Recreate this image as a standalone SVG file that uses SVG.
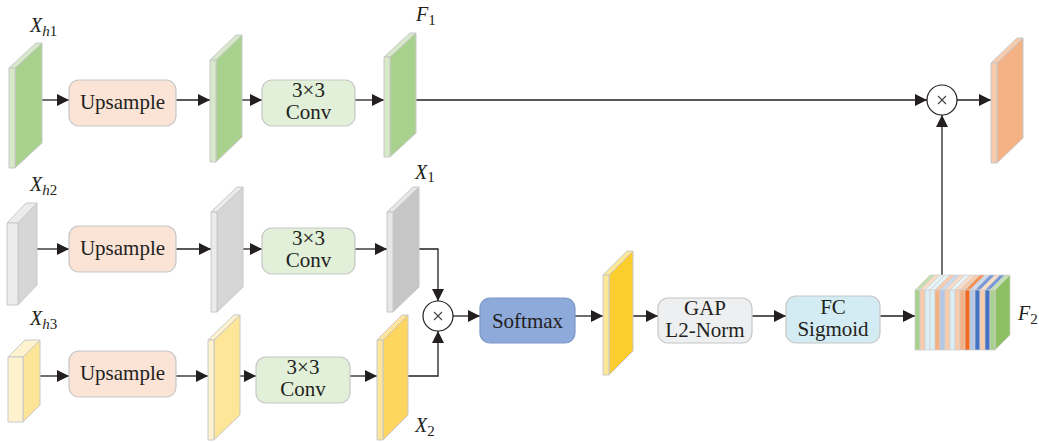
<svg xmlns="http://www.w3.org/2000/svg" width="1039" height="443" viewBox="0 0 1039 443">
<defs>
<marker id="ah" markerUnits="userSpaceOnUse" markerWidth="12" markerHeight="12" refX="12" refY="6" orient="auto">
<path d="M0,0 L12,6 L0,12 z" fill="#231f20"/>
</marker>
<style>
.map polygon,.map rect{stroke:#c8c8c8;stroke-width:1;stroke-linejoin:round}
.box{stroke:#c6c6c6;stroke-width:1.2}
.bt{font-family:"Liberation Serif",serif;font-size:21px;fill:#231f20;text-anchor:middle}
.lbl{font-family:"Liberation Serif",serif;font-size:20px;font-style:italic;fill:#231f20}
.sub{font-size:15px}
.num{font-size:15px;font-style:normal}
.con path{fill:none;stroke:#231f20;stroke-width:1.3}
.arr{marker-end:url(#ah)}
.op circle{fill:#fff;stroke:#231f20;stroke-width:1.2}
.op line{stroke:#444;stroke-width:1.1}
.st{stroke:#cfcfcf;stroke-width:0.7}
</style>
</defs>
<rect width="1039" height="443" fill="#fff"/>

<g id="connectors" class="con">
<path class="arr" d="M42,100 H69"/>
<path class="arr" d="M176,100 H210"/>
<path class="arr" d="M233,100 H262"/>
<path class="arr" d="M355,100 H384"/>
<path class="arr" d="M400,100 H927"/>
<path class="arr" d="M957,100 H991"/>
<path class="arr" d="M37,249 H69"/>
<path class="arr" d="M176,249 H211"/>
<path class="arr" d="M233,249 H262"/>
<path class="arr" d="M355,249 H387"/>
<path class="arr" d="M413,249 H438 V301"/>
<path class="arr" d="M40,376 H69"/>
<path class="arr" d="M176,376 H208"/>
<path class="arr" d="M227,376 H256"/>
<path class="arr" d="M350,376 H377"/>
<path class="arr" d="M398,376 H438 V331"/>
<path class="arr" d="M453,316 H480"/>
<path class="arr" d="M575,316 H603"/>
<path class="arr" d="M624,316 H658"/>
<path class="arr" d="M752,316 H786"/>
<path class="arr" d="M880,316 H915"/>
<path class="arr" d="M942,276 V115"/>
</g>

<g id="xh1" class="map">
<polygon points="15,68 42,43 42,143 15,168" fill="#a9d18e"/>
<polygon points="9,68 36,43 42,43 15,68" fill="#d7e9c8"/>
<rect x="9" y="68" width="6" height="100" fill="#d7e9c8"/>
<text class="lbl" x="30" y="32">X<tspan class="sub" dy="4">h</tspan><tspan class="num">1</tspan></text>
</g>
<g id="up1"><rect class="box" x="69" y="80" width="107" height="46" rx="10" fill="#fbe3d6"/><text class="bt" x="122.5" y="109">Upsample</text></g>
<g id="m12" class="map">
<polygon points="216,60 242,35 242,137 216,162" fill="#a9d18e"/>
<polygon points="210,60 236,35 242,35 216,60" fill="#d7e9c8"/>
<rect x="210" y="60" width="6" height="102" fill="#d7e9c8"/>
</g>
<g id="conv1"><rect class="box" x="262" y="80" width="93" height="46" rx="10" fill="#e2f0d9"/><text class="bt" x="308.5" y="97">3×3</text><text class="bt" x="308.5" y="119">Conv</text></g>
<g id="f1" class="map">
<polygon points="390,57 416,33 416,133 390,157" fill="#a9d18e"/>
<polygon points="384,57 410,33 416,33 390,57" fill="#d7e9c8"/>
<rect x="384" y="57" width="6" height="100" fill="#d7e9c8"/>
<text class="lbl" x="416" y="21">F<tspan class="num" dy="4">1</tspan></text>
</g>
<g id="mul1" class="op"><circle cx="942" cy="100" r="15"/><line x1="938" y1="96" x2="946" y2="104"/><line x1="946" y1="96" x2="938" y2="104"/></g>
<g id="out" class="map">
<polygon points="997,63 1023,38 1023,138 997,163" fill="#f4b183"/>
<polygon points="991,63 1017,38 1023,38 997,63" fill="#f8cbad"/>
<rect x="991" y="63" width="6" height="100" fill="#f8cbad"/>
</g>

<g id="xh2" class="map">
<polygon points="18,223 37,203 37,285 18,305" fill="#d6d6d6"/>
<polygon points="7,223 26,203 37,203 18,223" fill="#ececec"/>
<rect x="7" y="223" width="11" height="82" fill="#ececec"/>
<text class="lbl" x="30" y="191">X<tspan class="sub" dy="4">h</tspan><tspan class="num">2</tspan></text>
</g>
<g id="up2"><rect class="box" x="69" y="226" width="107" height="46" rx="10" fill="#fbe3d6"/><text class="bt" x="122.5" y="255">Upsample</text></g>
<g id="m22" class="map">
<polygon points="217,212 243,187 243,287 217,312" fill="#d6d6d6"/>
<polygon points="211,212 237,187 243,187 217,212" fill="#ebebeb"/>
<rect x="211" y="212" width="6" height="100" fill="#ebebeb"/>
</g>
<g id="conv2"><rect class="box" x="262" y="228" width="93" height="46" rx="10" fill="#e2f0d9"/><text class="bt" x="308.5" y="245">3×3</text><text class="bt" x="308.5" y="267">Conv</text></g>
<g id="x1" class="map">
<polygon points="393,212 419,187 419,287 393,312" fill="#c6c6c6"/>
<polygon points="387,212 413,187 419,187 393,212" fill="#e6e6e6"/>
<rect x="387" y="212" width="6" height="100" fill="#e6e6e6"/>
<text class="lbl" x="415" y="179">X<tspan class="num" dy="3">1</tspan></text>
</g>

<g id="xh3" class="map">
<polygon points="23,357 40,340 40,405 23,422" fill="#fde598"/>
<polygon points="8,357 25,340 40,340 23,357" fill="#fff3cf"/>
<rect x="8" y="357" width="15" height="65" fill="#fff3cf"/>
<text class="lbl" x="30" y="325">X<tspan class="sub" dy="4">h</tspan><tspan class="num">3</tspan></text>
</g>
<g id="up3"><rect class="box" x="69" y="351" width="107" height="46" rx="10" fill="#fbe3d6"/><text class="bt" x="122.5" y="380">Upsample</text></g>
<g id="m32" class="map">
<polygon points="214,340 240,315 240,415 214,440" fill="#fde697"/>
<polygon points="208,340 234,315 240,315 214,340" fill="#fff3cf"/>
<rect x="208" y="340" width="6" height="100" fill="#fff3cf"/>
</g>
<g id="conv3"><rect class="box" x="256" y="357" width="94" height="46" rx="10" fill="#e2f0d9"/><text class="bt" x="303" y="374">3×3</text><text class="bt" x="303" y="396">Conv</text></g>
<g id="x2" class="map">
<polygon points="383,340 408,315 408,415 383,440" fill="#fdd55f"/>
<polygon points="377,340 402,315 408,315 383,340" fill="#fde59c"/>
<rect x="377" y="340" width="6" height="100" fill="#fde59c"/>
<text class="lbl" x="415" y="432">X<tspan class="num" dy="4">2</tspan></text>
</g>

<g id="mul2" class="op"><circle cx="438" cy="316" r="15"/><line x1="434" y1="312" x2="442" y2="320"/><line x1="442" y1="312" x2="434" y2="320"/></g>
<g id="softmax"><rect x="480" y="298" width="95" height="45" rx="10" fill="#8eaadb" stroke="#7a97c8" stroke-width="1.2"/><text class="bt" x="527.5" y="328">Softmax</text></g>
<g id="att" class="map">
<polygon points="609,275 633,251 633,351 609,375" fill="#fccd2e"/>
<polygon points="603,275 627,251 633,251 609,275" fill="#fde89a"/>
<rect x="603" y="275" width="6" height="100" fill="#fde89a"/>
</g>
<g id="gap"><rect class="box" x="658" y="298" width="94" height="45" rx="10" fill="#eeeff0"/><text class="bt" x="705" y="315">GAP</text><text class="bt" x="705" y="337">L2-Norm</text></g>
<g id="fc"><rect class="box" x="786" y="296" width="94" height="47" rx="10" fill="#d3ecf3"/><text class="bt" x="833" y="314">FC</text><text class="bt" x="833" y="336">Sigmoid</text></g>

<g id="f2">
<polygon points="995,290 1010,275 1010,335 995,350" fill="#8cc063" stroke="#cfcfcf" stroke-width="0.8"/>
<g class="st">
<polygon points="915,290 930,275 935,275 920,290" fill="#c4e0b0"/>
<polygon points="920,290 935,275 940,275 925,290" fill="#fbdcc7"/>
<polygon points="925,290 940,275 945,275 930,290" fill="#e6f3f7"/>
<polygon points="930,290 945,275 950,275 935,290" fill="#e6f3f7"/>
<polygon points="935,290 950,275 955,275 940,290" fill="#f8cbad"/>
<polygon points="940,290 955,275 960,275 945,290" fill="#ccd9ef"/>
<polygon points="945,290 960,275 965,275 950,290" fill="#fbdcc7"/>
<polygon points="950,290 965,275 970,275 955,290" fill="#e6f3f7"/>
<polygon points="955,290 970,275 975,275 960,290" fill="#fbdcc7"/>
<polygon points="960,290 975,275 980,275 965,290" fill="#f8cbad"/>
<polygon points="965,290 980,275 985,275 970,290" fill="#f5925a"/>
<polygon points="970,290 985,275 990,275 975,290" fill="#ccd9ef"/>
<polygon points="975,290 990,275 995,275 980,290" fill="#7b9bd6"/>
<polygon points="980,290 995,275 1000,275 985,290" fill="#fbdcc7"/>
<polygon points="985,290 1000,275 1005,275 990,290" fill="#7b9bd6"/>
<polygon points="990,290 1005,275 1010,275 995,290" fill="#c4e0b0"/>
<rect x="915" y="290" width="5" height="60" fill="#a9d18e"/>
<rect x="920" y="290" width="5" height="60" fill="#f8cbad"/>
<rect x="925" y="290" width="5" height="60" fill="#dbeef3"/>
<rect x="930" y="290" width="5" height="60" fill="#dbeef3"/>
<rect x="935" y="290" width="5" height="60" fill="#f4b183"/>
<rect x="940" y="290" width="5" height="60" fill="#b4c7e7"/>
<rect x="945" y="290" width="5" height="60" fill="#f8cbad"/>
<rect x="950" y="290" width="5" height="60" fill="#dbeef3"/>
<rect x="955" y="290" width="5" height="60" fill="#f8cbad"/>
<rect x="960" y="290" width="5" height="60" fill="#f4b183"/>
<rect x="965" y="290" width="5" height="60" fill="#f26b21"/>
<rect x="970" y="290" width="5" height="60" fill="#b4c7e7"/>
<rect x="975" y="290" width="5" height="60" fill="#4472c4"/>
<rect x="980" y="290" width="5" height="60" fill="#f8cbad"/>
<rect x="985" y="290" width="5" height="60" fill="#4472c4"/>
<rect x="990" y="290" width="5" height="60" fill="#a9d18e"/>
</g>
<text class="lbl" x="1018" y="320">F<tspan class="num" dy="4">2</tspan></text>
</g>
</svg>
